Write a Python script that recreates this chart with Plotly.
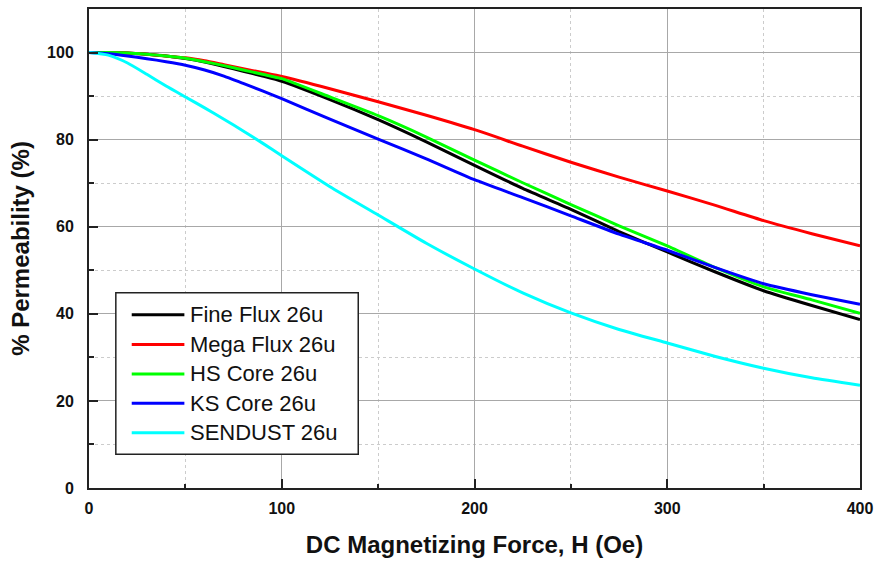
import plotly.graph_objects as go

H = [0, 10, 20, 30, 40, 50, 60, 70, 80, 90, 100, 125, 150, 175, 200, 225, 250, 275, 300, 325, 350, 375, 400]

fine_flux = [100, 100, 99.9, 99.6, 99.2, 98.6, 97.8, 96.8, 95.7, 94.6, 93.4, 89.2, 84.6, 79.5, 74.1, 68.8, 64.0, 58.9, 54.2, 49.6, 45.3, 41.9, 38.7]
mega_flux = [100, 100, 99.9, 99.6, 99.2, 98.8, 98.1, 97.2, 96.3, 95.4, 94.5, 91.7, 88.7, 85.6, 82.3, 78.5, 74.8, 71.4, 68.2, 64.9, 61.4, 58.4, 55.6]
hs_core = [100, 100, 99.9, 99.6, 99.2, 98.7, 97.9, 97.0, 96.0, 95.0, 94.0, 89.8, 85.5, 80.6, 75.3, 70.1, 65.1, 60.2, 55.6, 50.6, 46.2, 43.2, 40.1]
ks_core = [100, 99.7, 99.2, 98.6, 97.9, 97.1, 96.0, 94.6, 92.9, 91.2, 89.4, 84.7, 80.1, 75.6, 70.8, 66.7, 62.5, 58.3, 54.6, 50.6, 46.9, 44.4, 42.2]
sendust = [100, 99.4, 97.6, 95.0, 92.3, 89.8, 87.3, 84.7, 82.0, 79.2, 76.3, 69.2, 62.7, 56.2, 50.3, 44.8, 40.2, 36.4, 33.3, 30.2, 27.5, 25.3, 23.6]

names = ["Fine Flux 26u", "Mega Flux 26u", "HS Core 26u", "KS Core 26u", "SENDUST 26u"]
colors = ["#000000", "#ff0000", "#00ff00", "#0000ff", "#00ffff"]
series = [fine_flux, mega_flux, hs_core, ks_core, sendust]

W, HGT = 880, 561
L, R, T, B = 89, 15, 7, 73
pw, ph = W - L - R, HGT - T - B

def px(x):
    return (x - L) / pw

def py(y):
    return (HGT - B - y) / ph

fig = go.Figure()
for n, c, s in zip(names, colors, series):
    fig.add_trace(go.Scatter(x=H, y=s, mode="lines", name=n,
                             line=dict(color=c, width=3, shape="spline", smoothing=0.5),
                             showlegend=False))

font_fam = "Liberation Sans, Arial, sans-serif"

axis_common = dict(
    showline=True, linecolor="#222222", linewidth=2, mirror=True,
    ticks="inside", ticklen=9, tickwidth=2, tickcolor="#222222",
    showgrid=True, gridcolor="#a8a8a8", gridwidth=1,
    zeroline=False,
    tickfont=dict(family=font_fam, size=16, color="#111111", weight="bold"),
    title_font=dict(family=font_fam, size=24, color="#111111", weight="bold"),
)

fig.update_layout(
    width=W, height=HGT,
    margin=dict(l=L, r=R, t=T, b=B),
    paper_bgcolor="white", plot_bgcolor="white",
    xaxis=dict(range=[0, 400], dtick=100, tick0=0,
               title=dict(text="DC Magnetizing Force, H (Oe)", standoff=20),
               minor=dict(dtick=50, ticks="inside", ticklen=4, tickcolor="#222222",
                          showgrid=True, gridcolor="#cccccc", griddash="dot", gridwidth=1),
               ticklabelstandoff=5,
               **axis_common),
    yaxis=dict(range=[0, 110], dtick=20, tick0=0,
               title=dict(text="% Permeability (%)", standoff=11),
               minor=dict(dtick=10, ticks="inside", ticklen=5, tickcolor="#222222",
                          showgrid=True, gridcolor="#cccccc", griddash="dot", gridwidth=1),
               ticklabelstandoff=10,
               **axis_common),
    showlegend=False,
)

# legend box (manual)
bx0, bx1, by0, by1 = 116, 360, 292, 454
fig.add_shape(type="rect", xref="paper", yref="paper",
              x0=px(bx0), x1=px(bx1), y0=py(by1), y1=py(by0),
              line=dict(color="#222222", width=1.5), fillcolor="white", layer="above")
rows = [314, 344, 373.5, 403, 432.5]
for n, c, ry in zip(names, colors, rows):
    fig.add_shape(type="line", xref="paper", yref="paper",
                  x0=px(132), x1=px(185), y0=py(ry), y1=py(ry),
                  line=dict(color=c, width=3), layer="above")
    fig.add_annotation(xref="paper", yref="paper", x=px(189), y=py(ry),
                       text=n, showarrow=False, xanchor="left", yanchor="middle",
                       font=dict(family=font_fam, size=22, color="#111111"))

fig.write_html("out.html")
